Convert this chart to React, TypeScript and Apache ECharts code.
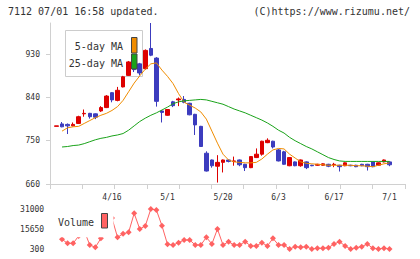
import React, { useEffect, useRef } from "react";
import * as echarts from "echarts";

const dates = [
  "4/2", "4/3", "4/4", "4/5", "4/8", "4/9", "4/10", "4/11", "4/12", "4/15",
  "4/16", "4/17", "4/18", "4/19", "4/22", "4/23", "4/24", "4/25", "4/26", "4/30",
  "5/1", "5/7", "5/8", "5/9", "5/10", "5/13", "5/14", "5/15", "5/16", "5/17",
  "5/20", "5/21", "5/22", "5/23", "5/24", "5/27", "5/28", "5/29", "5/30", "5/31",
  "6/3", "6/4", "6/5", "6/6", "6/7", "6/10", "6/11", "6/12", "6/13", "6/14",
  "6/17", "6/18", "6/19", "6/20", "6/21", "6/24", "6/25", "6/26", "6/27", "6/28",
  "7/1",
];

// [open, close, low, high]
const candles: number[][] = [
  [780, 781, 780, 781], [785, 779, 778, 789], [784, 781, 764, 786], [781, 784, 780, 788],
  [786, 800, 785, 802], [806, 807, 800, 815], [807, 800, 796, 808], [806, 799, 795, 807],
  [812, 819, 810, 822], [819, 843, 818, 845], [850, 835, 830, 851], [834, 855, 832, 862],
  [862, 883, 861, 885], [886, 914, 885, 916], [912, 898, 893, 928], [910, 891, 886, 912],
  [900, 938, 898, 940], [942, 928, 926, 995], [922, 832, 821, 924], [812, 809, 788, 814],
  [803, 815, 802, 816], [831, 823, 820, 833], [835, 837, 822, 840], [836, 830, 828, 843],
  [828, 804, 803, 829], [805, 783, 762, 806], [780, 738, 737, 781], [724, 687, 686, 728],
  [710, 698, 694, 711], [697, 705, 663, 720], [705, 710, 684, 711], [710, 707, 705, 711],
  [707, 708, 698, 717], [710, 700, 697, 711], [701, 694, 687, 702], [694, 717, 693, 718],
  [715, 722, 714, 734], [722, 749, 719, 750], [746, 751, 745, 755], [749, 737, 734, 750],
  [731, 708, 707, 733], [727, 701, 700, 729], [698, 715, 697, 716], [706, 698, 697, 707],
  [698, 710, 696, 711], [706, 694, 691, 707], [699, 698, 697, 700], [699, 701, 698, 702],
  [699, 702, 698, 703], [701, 697, 695, 702], [700, 701, 695, 704], [699, 696, 686, 700],
  [698, 704, 697, 705], [699, 698, 697, 700], [699, 696, 695, 700], [701, 698, 697, 702],
  [701, 696, 688, 702], [706, 696, 695, 707], [699, 704, 698, 705], [706, 710, 705, 711],
  [706, 700, 697, 707],
];

const ma5 = [
  null, 770, 777, 779, 780, 786, 792, 798, 803, 807, 813, 821, 834, 852, 870, 885,
  899, 910, 912, 897, 884, 869, 848, 830, 824, 818, 810, 795, 770, 745, 722, 710,
  706, 705, 704, 704, 705, 712, 722, 731, 734, 733, 722, 714, 706, 703, 702, 701,
  700, 699, 699, 699, 699, 699, 698, 698, 697, 696, 699, 702, 704,
];

const ma25 = [
  null, 737, 738, 740, 741, 744, 748, 752, 755, 757, 760, 762, 765, 772, 781, 790,
  797, 803, 808, 814, 820, 827, 831, 833, 834, 835, 836, 835, 832, 829, 826, 821,
  816, 812, 808, 803, 798, 793, 787, 780, 772, 766, 757, 750, 744, 738, 733, 727,
  721, 715, 711, 708, 707, 707, 707, 707, 707, 707, 707, 707, 707,
];

const volume = [
  null, 7720, 4650, 4650, 10300, 14300, 3370, 1580, 8490, 15000, 24000, 9250, 12000,
  13100, 27680, 15650, 18000, 31000, 30230, 18210, 3880, 3370, 5160, 7210, 7210, 3370,
  3370, 9250, 4140, 15650, 3370, 5930, 3370, 3370, 5930, 2600, 2600, 5160, 2600, 8490,
  3370, 3370, 300, 2090, 1580, 2090, 300, 810, 810, 1320, 4140, 5930, 2600, 300, 1320,
  2090, 4140, 810, 300, 810, 300,
];

const priceTicks = [660, 750, 840, 930];
const volumeTicks = [300, 15650, 31000];

const MONO = "DejaVu Sans Mono";
const UP = "#dd0000";
const DOWN = "#3c3cbe";
const ORANGE = "#f08c00";
const GREEN = "#1aa31a";
const VOL = "#ff6262";
const AXIS = "#d0d0d0";
const TXT = "#333333";

export default function App() {
  const ref = useRef<HTMLDivElement>(null);
  useEffect(() => {
    if (!ref.current) return;
    const chart = echarts.init(ref.current, undefined, { renderer: "svg" });
    const candleLeft = 53.7;
    const candleRight = 27.7;
    chart.setOption({
      animation: false,
      grid: [
        { left: 50, right: 15, top: 23, bottom: 75 },
        { left: candleLeft, right: candleRight, top: 23, bottom: 75 },
        { left: candleLeft, right: candleRight, top: 209, bottom: 10 },
      ],
      xAxis: [
        {
          gridIndex: 0, type: "value", min: 0, max: 11, interval: 1,
          axisLine: { show: true, lineStyle: { color: AXIS } },
          axisTick: { show: true, length: 5, lineStyle: { color: AXIS } },
          axisLabel: { show: false }, splitLine: { show: false },
        },
        {
          gridIndex: 1, type: "category", data: dates, boundaryGap: true,
          axisLine: { show: false }, axisTick: { show: false },
          axisLabel: {
            interval: (i: number) => i > 0 && i % 10 === 0,
            fontSize: 8, fontFamily: MONO, color: TXT, margin: 9,
          },
          splitLine: { show: false },
        },
        { gridIndex: 2, type: "category", data: dates, boundaryGap: true, show: false },
      ],
      yAxis: [
        {
          gridIndex: 0, type: "value", min: 660, max: 995,
          axisLine: { show: true, lineStyle: { color: AXIS } },
          axisTick: { show: true, length: 4, customValues: priceTicks, lineStyle: { color: AXIS } },
          axisLabel: { customValues: priceTicks, fontSize: 8, fontFamily: MONO, color: TXT, margin: 10 },
          splitLine: { show: false },
        },
        { gridIndex: 1, type: "value", min: 660, max: 995, show: false },
        {
          gridIndex: 2, type: "value", min: 300, max: 31000,
          axisLine: { show: false }, axisTick: { show: false }, splitLine: { show: false },
          axisLabel: {
            customValues: volumeTicks, fontSize: 8, fontFamily: MONO, color: TXT, margin: 9.5,
            formatter: (v: number) => String(v),
          },
        },
      ],
      series: [
        {
          type: "candlestick", xAxisIndex: 1, yAxisIndex: 1, data: candles, barWidth: 4,
          itemStyle: { color: UP, color0: DOWN, borderColor: UP, borderColor0: DOWN, borderWidth: 1 },
        },
        {
          type: "line", xAxisIndex: 1, yAxisIndex: 1, data: ma5, symbol: "none",
          lineStyle: { color: ORANGE, width: 1 }, itemStyle: { color: ORANGE },
        },
        {
          type: "line", xAxisIndex: 1, yAxisIndex: 1, data: ma25, symbol: "none",
          lineStyle: { color: GREEN, width: 1 }, itemStyle: { color: GREEN },
        },
        {
          type: "line", xAxisIndex: 2, yAxisIndex: 2, data: volume, symbol: "diamond", symbolSize: 6,
          showSymbol: true, showAllSymbol: true,
          lineStyle: { color: VOL, width: 1 }, itemStyle: { color: VOL },
        },
      ],
      graphic: [
        {
          type: "text", x: 8, y: 11.5, z: 20,
          style: { text: "7112 07/01 16:58 updated.", fill: TXT, fontSize: 10, fontFamily: MONO, align: "left", verticalAlign: "middle" },
        },
        {
          type: "text", x: 410, y: 11.5, z: 20,
          style: { text: "(C)https://www.rizumu.net/", fill: TXT, fontSize: 10, fontFamily: MONO, align: "right", verticalAlign: "middle" },
        },
        {
          type: "rect", z: 0, shape: { x: 65.5, y: 30.5, width: 77, height: 46 },
          style: { fill: "#ffffff", stroke: "#cccccc", lineWidth: 1 },
        },
        {
          type: "text", x: 123, y: 46, z: 1,
          style: { text: "5-day MA", fill: TXT, fontSize: 10, fontFamily: MONO, align: "right", verticalAlign: "middle" },
        },
        {
          type: "text", x: 123, y: 63.5, z: 1,
          style: { text: "25-day MA", fill: TXT, fontSize: 10, fontFamily: MONO, align: "right", verticalAlign: "middle" },
        },
        {
          type: "rect", z: 10, shape: { x: 131.5, y: 37.5, width: 5.5, height: 15.5 },
          style: { fill: ORANGE, stroke: "#444444", lineWidth: 1 },
        },
        {
          type: "rect", z: 10, shape: { x: 131.5, y: 54, width: 5.5, height: 15 },
          style: { fill: GREEN, stroke: "#444444", lineWidth: 1 },
        },
        {
          type: "rect", z: 10, shape: { x: 55, y: 203, width: 58.5, height: 34.3 },
          style: { fill: "#ffffff", lineWidth: 0 },
        },
        {
          type: "text", x: 58, y: 222.5, z: 11,
          style: { text: "Volume", fill: TXT, fontSize: 10, fontFamily: MONO, align: "left", verticalAlign: "middle" },
        },
        {
          type: "rect", z: 11, shape: { x: 101.5, y: 213.5, width: 6, height: 14.5 },
          style: { fill: VOL, stroke: "#444444", lineWidth: 1 },
        },
      ],
    });
    return () => chart.dispose();
  }, []);
  return (
    <div
      ref={ref}
      style={{ position: "fixed", left: 0, top: 0, width: 420, height: 259, background: "#ffffff" }}
    />
  );
}
